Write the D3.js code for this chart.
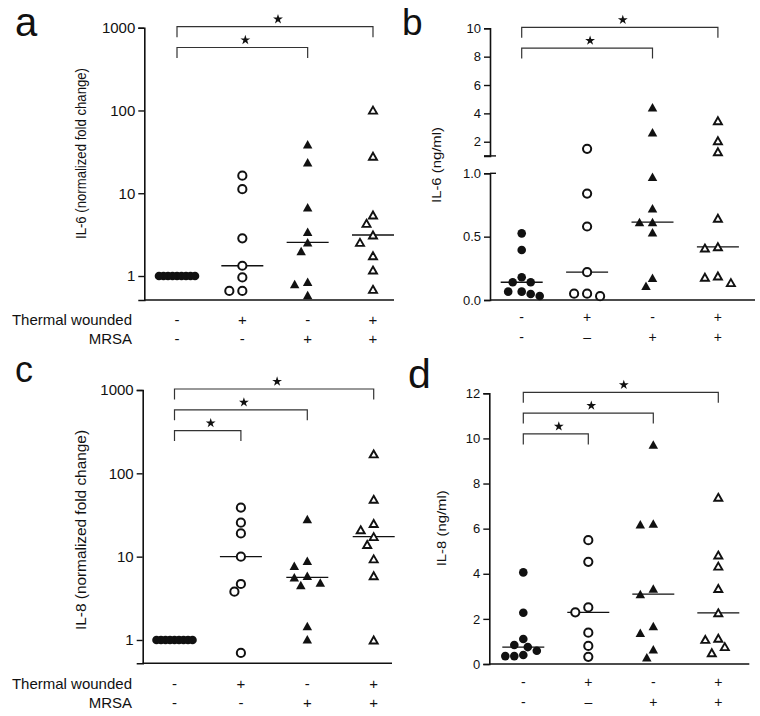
<!DOCTYPE html>
<html><head><meta charset="utf-8">
<script src="https://cdn.jsdelivr.net/npm/d3@7"></script>
<style>
body{margin:0;background:#fff}
svg{display:block}
text{font-family:"Liberation Sans",Arial,Helvetica,sans-serif;fill:#111}
</style>
</head><body>
<svg id="chart" width="760" height="716"></svg>
<script>
// ---------------- data ----------------
const groups = ["control", "thermal", "mrsa", "thermal+mrsa"];
const thermalRow = ["-", "+", "-", "+"];
const mrsaRowLeft = ["-", "-", "+", "+"];
const mrsaRowRight = ["-", "\u2013", "+", "+"];

// a: IL-6 (normalized fold change)
const aControl = [1, 1, 1, 1, 1, 1, 1, 1, 1];
const aThermal = [16.3, 11.2, 2.85, 1.33, 0.96, 0.66, 0.66];
const aMrsa = [39, 23.6, 6.76, 3.43, 2.55, 2.0, 0.85, 0.8, 0.59];
const aBoth = [101, 28, 5.46, 4.33, 3.13, 2.55, 1.76, 1.18, 0.69];

// b: IL-6 (ng/ml)
const bControl = [0.526, 0.395, 0.179, 0.14, 0.14, 0.066, 0.066, 0.047, 0.032];
const bThermal = [1.5, 0.84, 0.58, 0.22, 0.05, 0.03, 0.05];
const bMrsa = [4.43, 2.66, 0.973, 0.724, 0.615, 0.615, 0.534, 0.176, 0.113];
const bBoth = [3.48, 2.07, 1.29, 0.645, 0.42, 0.41, 0.19, 0.137, 0.18];

// c: IL-8 (normalized fold change)
const cControl = [1, 1, 1, 1, 1, 1, 1, 1, 1];
const cThermal = [38.7, 25.6, 19, 10, 4.7, 3.8, 0.7];
const cMrsa = [28.3, 8.95, 7.8, 5.9, 5.65, 4.9, 4.57, 1.47, 1.02];
const cBoth = [171, 48.8, 25, 21, 17.4, 14, 9.4, 5.9, 1];

// d: IL-8 (ng/ml)
const dControl = [4.06, 2.27, 1.11, 0.84, 0.75, 0.59, 0.40, 0.35, 0.35];
const dThermal = [5.49, 4.53, 2.51, 2.29, 1.39, 0.80, 0.32];
const dMrsa = [9.73, 6.23, 6.19, 3.35, 3.10, 1.68, 1.39, 0.65, 0.30];
const dBoth = [7.39, 4.83, 4.34, 3.35, 2.27, 1.14, 1.09, 0.77, 0.50];

// tick values
const logTicks = [1, 10, 100, 1000];
const bUpperTicks = [2, 4, 6, 8, 10];
const bLowerTicks = [0, 0.5, 1.0];
const dTicks = [0, 2, 4, 6, 8, 10, 12];

// significance brackets (pairs of group indices, outermost first)
const bracketsTwo = [[0, 3], [0, 2]];
const bracketsThree = [[0, 3], [0, 2], [0, 1]];

// ---------------- layout ----------------
const svg = d3.select("#chart");
const markerKinds = ["filledCircle", "openCircle", "filledTriangle", "openTriangle"];
const INK = "#111";

const panels = [
  { letter: "a", lx: 15, ly: 36, lsize: 40,
    series: [aControl, aThermal, aMrsa, aBoth], type: "log", ticks: logTicks, ymin: 0.513, ymax: 1000,
    left: 144.3, top: 27.7, bottom: 300, right: 394, gx0: 177, gstep: 65.33,
    tickFont: 15, title: "IL-6 (normalized fold change)", tx: 86, ty: 153.5, tsize: 15.5, tlen: 171,
    brackets: bracketsTwo, rows: [320, 338.5], rowFont: 15, mrsaRow: mrsaRowLeft, rowTitles: true },
  { letter: "b", lx: 402, ly: 35, lsize: 37,
    series: [bControl, bThermal, bMrsa, bBoth], type: "broken", ymax: 10,
    left: 490, top: 28.3, breakUp: 155.9, breakLo: 173.3, bottom: 300, right: 755, gx0: 521.7, gstep: 65.4,
    tickFont: 13, title: "IL-6 (ng/ml)", tx: 441, ty: 165, tsize: 13.5, tlen: 76,
    brackets: bracketsTwo, rows: [317, 337], rowFont: 14, mrsaRow: mrsaRowRight, rowTitles: false },
  { letter: "c", lx: 15, ly: 382, lsize: 36,
    series: [cControl, cThermal, cMrsa, cBoth], type: "log", ticks: logTicks, ymin: 0.525, ymax: 1000,
    left: 142.7, top: 390, bottom: 663.3, right: 392, gx0: 174.5, gstep: 66.4,
    tickFont: 15, title: "IL-8 (normalized fold change)", tx: 85.5, ty: 530, tsize: 15.5, tlen: 200,
    brackets: bracketsThree, rows: [683.3, 702.7], rowFont: 15, mrsaRow: mrsaRowLeft, rowTitles: true },
  { letter: "d", lx: 408, ly: 388, lsize: 41,
    series: [dControl, dThermal, dMrsa, dBoth], type: "linear", ticks: dTicks, ymin: 0, ymax: 12,
    left: 489.3, top: 393.3, bottom: 664, right: 749.3, gx0: 523.3, gstep: 65,
    tickFont: 13, title: "IL-8 (ng/ml)", tx: 446, ty: 528.3, tsize: 13.5, tlen: 76,
    brackets: bracketsThree, rows: [681.7, 701.7], rowFont: 14, mrsaRow: mrsaRowRight, rowTitles: false }
];

function triPath(w, h) {
  return `M0,${-h / 2}L${w / 2},${h / 2}L${-w / 2},${h / 2}Z`;
}

// simple beeswarm: greedy placement in slots, compressed when too wide
function swarm(pys, D, step, maxHalf) {
  const idx = pys.map((p, i) => i).sort((i, j) => pys[i] - pys[j]);
  const placed = [];
  const off = new Array(pys.length).fill(0);
  for (const i of idx) {
    for (let k = 0; k < 60; k++) {
      const o = k === 0 ? 0 : (k % 2 ? -Math.ceil(k / 2) : Math.ceil(k / 2)) * step;
      if (placed.every(p => Math.hypot(p.o - o, p.y - pys[i]) >= D - 1e-6)) {
        off[i] = o; placed.push({ o, y: pys[i] }); break;
      }
    }
  }
  const m = d3.max(off, Math.abs);
  if (m > maxHalf) return off.map(o => o * maxHalf / m);
  return off;
}

function styleAxis(g, fontSize) {
  g.attr("font-family", null).attr("font-size", null);
  g.select(".domain").attr("stroke", INK).attr("stroke-width", 1.6);
  g.selectAll(".tick line").attr("stroke", INK).attr("stroke-width", 1.4);
  g.selectAll(".tick text").attr("fill", "#111").style("font-size", fontSize + "px");
}

panels.forEach(p => {
  const g = svg.append("g");
  const x = d3.scalePoint().domain(groups).range([p.gx0, p.gx0 + 3 * p.gstep]);

  let yv;
  if (p.type === "log") {
    const s = d3.scaleLog().domain([p.ymin, p.ymax]).range([p.bottom, p.top]);
    yv = v => s(v);
    g.append("g").attr("transform", `translate(${p.left},0)`)
      .call(d3.axisLeft(s).tickValues(p.ticks).tickFormat(d3.format("d")).tickSizeOuter(0).tickSize(6).tickPadding(3))
      .call(a => styleAxis(a, p.tickFont));
  } else if (p.type === "linear") {
    const s = d3.scaleLinear().domain([p.ymin, p.ymax]).range([p.bottom, p.top]);
    yv = v => s(v);
    g.append("g").attr("transform", `translate(${p.left},0)`)
      .call(d3.axisLeft(s).tickValues(p.ticks).tickFormat(d3.format("d")).tickSizeOuter(0).tickSize(6).tickPadding(3))
      .call(a => styleAxis(a, p.tickFont));
  } else {
    const lo = d3.scaleLinear().domain([0, 1]).range([p.bottom, p.breakLo]);
    const up = d3.scaleLinear().domain([1, p.ymax]).range([p.breakUp, p.top]);
    yv = v => (v <= 1 ? lo(v) : up(v));
    g.append("g").attr("transform", `translate(${p.left},0)`)
      .call(d3.axisLeft(lo).tickValues(bLowerTicks).tickFormat(d3.format(".1f")).tickSizeOuter(0).tickSize(6).tickPadding(3))
      .call(a => styleAxis(a, p.tickFont));
    g.append("g").attr("transform", `translate(${p.left},0)`)
      .call(d3.axisLeft(up).tickValues(bUpperTicks).tickFormat(d3.format("d")).tickSizeOuter(0).tickSize(6).tickPadding(3))
      .call(a => styleAxis(a, p.tickFont));
    // break stubs
    g.append("line").attr("x1", p.left - 6).attr("x2", p.left + 6)
      .attr("y1", up(1)).attr("y2", up(1)).attr("stroke", INK).attr("stroke-width", 1.4);
    g.append("line").attr("x1", p.left).attr("x2", p.left + 6)
      .attr("y1", lo(1)).attr("y2", lo(1)).attr("stroke", INK).attr("stroke-width", 1.4);
  }

  // x axis line
  g.append("line").attr("x1", p.left).attr("x2", p.right)
    .attr("y1", p.bottom).attr("y2", p.bottom)
    .attr("stroke", INK).attr("stroke-width", 1.6);

  // panel letter
  g.append("text").attr("x", p.lx).attr("y", p.ly).style("font-size", p.lsize + "px").text(p.letter);

  // axis title
  g.append("text")
    .attr("transform", `translate(${p.tx},${p.ty}) rotate(-90)`)
    .attr("text-anchor", "middle")
    .attr("textLength", p.tlen).attr("lengthAdjust", "spacingAndGlyphs")
    .style("font-size", p.tsize + "px")
    .text(p.title);

  // median lines
  p.series.forEach((vals, gi) => {
    const med = d3.median(vals);
    const cx = x(groups[gi]);
    g.append("line").attr("x1", cx - 21).attr("x2", cx + 21)
      .attr("y1", yv(med)).attr("y2", yv(med))
      .attr("stroke", INK).attr("stroke-width", 1.3);
  });

  // points
  p.series.forEach((vals, gi) => {
    const cx = x(groups[gi]);
    const pys = vals.map(yv);
    const offs = swarm(pys, 10, 6.5, 18);
    const kind = markerKinds[gi];
    const sel = g.append("g").selectAll("path").data(vals).join("path")
      .attr("transform", (d, i) => `translate(${cx + offs[i]},${pys[i]})`);
    if (kind === "filledCircle") {
      sel.attr("d", d3.symbol(d3.symbolCircle, Math.PI * 4.3 * 4.3)()).attr("fill", INK);
    } else if (kind === "openCircle") {
      sel.attr("d", d3.symbol(d3.symbolCircle, Math.PI * 4.1 * 4.1)())
        .attr("fill", "#fff").attr("stroke", INK).attr("stroke-width", 2);
    } else if (kind === "filledTriangle") {
      sel.attr("d", triPath(9.5, 8.5)).attr("fill", INK);
    } else {
      sel.attr("d", triPath(8, 7)).attr("fill", "#fff").attr("stroke", INK)
        .attr("stroke-width", 1.9).attr("stroke-linejoin", "miter");
    }
  });

  // significance brackets
  p.brackets.forEach((br, level) => {
    const x1 = x(groups[br[0]]), x2 = x(groups[br[1]]);
    const by = p.top - 1 + level * 20.8;
    g.append("path")
      .attr("d", `M${x1},${by + 10.5}V${by}H${x2}V${by + 10.5}`)
      .attr("fill", "none").attr("stroke", "#333").attr("stroke-width", 1.2);
    g.append("path")
      .attr("d", d3.symbol(d3.symbolStar, 30)())
      .attr("transform", `translate(${(x1 + x2) / 2 + 3},${by - 7.5})`)
      .attr("fill", INK);
  });

  // condition rows
  const rowVals = [thermalRow, p.mrsaRow];
  const rowNames = ["Thermal wounded", "MRSA"];
  rowVals.forEach((row, ri) => {
    g.append("g").selectAll("text").data(row).join("text")
      .attr("x", (d, i) => x(groups[i]))
      .attr("y", p.rows[ri]).attr("dy", "0.35em")
      .attr("text-anchor", "middle")
      .style("font-size", p.rowFont + "px")
      .text(d => d);
    if (p.rowTitles) {
      g.append("text").attr("x", 132).attr("y", p.rows[ri]).attr("dy", "0.35em")
        .attr("text-anchor", "end").style("font-size", "15px").text(rowNames[ri]);
    }
  });
});
</script>
</body></html>
